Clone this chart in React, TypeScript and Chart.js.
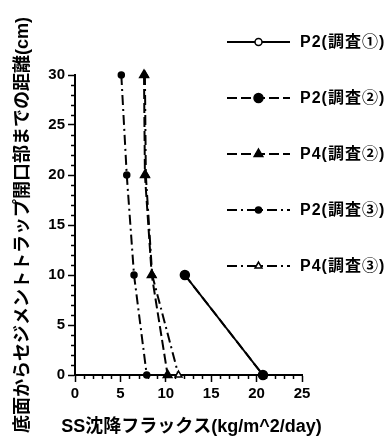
import React, { useEffect, useRef } from 'react';
import { Chart, registerables } from 'chart.js';

Chart.register(...registerables);

const FONT = '"Liberation Sans", "Noto Sans CJK JP", sans-serif';

// ---- data ----
const seriesLabels = ['P2(調査①)', 'P2(調査②)', 'P4(調査②)', 'P2(調査③)', 'P4(調査③)'];
const depthFourLevels = [30, 20, 10, 0];
const depthTwoLevels = [10, 0];
const p2Survey1Flux = [12.1, 20.7];
const p2Survey2Flux = [12.1, 20.7];
const p4Survey2Flux = [7.6, 7.7, 8.45, 10.2];
const p2Survey3Flux = [5.1, 5.7, 6.5, 7.9];
const p4Survey3Flux = [7.7, 7.8, 8.5, 11.4];

const xTitle = 'SS沈降フラックス(kg/m^2/day)';
const yTitle = '底面からセジメントトラップ開口部までの距離(cm)';
const X_MIN = 0, X_MAX = 25, X_MAJOR = 5, X_MINOR = 1;
const Y_MIN = 0, Y_MAX = 30, Y_MAJOR = 5, Y_MINOR = 1;

const toPoints = (xs: number[], ys: number[]) => xs.map((x, i) => ({ x, y: ys[i] }));

function drawMarker(ctx: CanvasRenderingContext2D, style: string, x: number, y: number, r: number, fill: string) {
  ctx.beginPath();
  if (style === 'triangle') {
    ctx.moveTo(x, y - r);
    ctx.lineTo(x + 0.866 * r, y + 0.5 * r);
    ctx.lineTo(x - 0.866 * r, y + 0.5 * r);
    ctx.closePath();
  } else {
    ctx.arc(x, y, r, 0, Math.PI * 2);
  }
  ctx.fillStyle = fill;
  ctx.fill();
  ctx.lineWidth = 1.5;
  ctx.strokeStyle = '#000';
  ctx.stroke();
}

const legendPlugin = {
  id: 'customLegend',
  afterDraw(chart: any) {
    const ctx: CanvasRenderingContext2D = chart.ctx;
    ctx.save();
    chart.data.datasets.forEach((ds: any, i: number) => {
      const y = 42 + i * 56;
      ctx.strokeStyle = '#000';
      ctx.lineWidth = 2;
      ctx.setLineDash(ds.borderDash || []);
      ctx.beginPath();
      ctx.moveTo(227, y);
      ctx.lineTo(290, y);
      ctx.stroke();
      ctx.setLineDash([]);
      drawMarker(ctx, ds.pointStyle, 258.5, y, ds.pointRadius, ds.pointBackgroundColor);
      ctx.fillStyle = '#000';
      ctx.font = `bold 16px ${FONT}`;
      (ctx as any).letterSpacing = '1px';
      ctx.textBaseline = 'middle';
      ctx.textAlign = 'left';
      ctx.fillText(ds.label, 300, y + 1);
      (ctx as any).letterSpacing = '0px';
    });
    ctx.restore();
  },
};

const xTitlePlugin = {
  id: 'xTitle',
  afterDraw(chart: any) {
    const ctx: CanvasRenderingContext2D = chart.ctx;
    const area = chart.chartArea;
    ctx.save();
    ctx.fillStyle = '#000';
    ctx.font = `bold 18px ${FONT}`;
    ctx.textAlign = 'center';
    ctx.textBaseline = 'middle';
    ctx.fillText(xTitle, (area.left + area.right) / 2 + 3, chart.height - 10);
    ctx.restore();
  },
};

const minorTicksPlugin = {
  id: 'minorTicks',
  afterDraw(chart: any) {
    const { ctx, scales } = chart;
    const xs = scales.x, ys = scales.y;
    const area = chart.chartArea;
    ctx.save();
    ctx.strokeStyle = '#000';
    ctx.lineWidth = 1.5;
    for (let v = X_MIN; v <= X_MAX; v += X_MINOR) {
      if (v % X_MAJOR === 0) continue;
      const px = Math.round(xs.getPixelForValue(v)) + 0.5;
      ctx.beginPath();
      ctx.moveTo(px, area.bottom);
      ctx.lineTo(px, area.bottom + 4);
      ctx.stroke();
    }
    for (let v = Y_MIN; v <= Y_MAX; v += Y_MINOR) {
      if (v % Y_MAJOR === 0) continue;
      const py = Math.round(ys.getPixelForValue(v)) + 0.5;
      ctx.beginPath();
      ctx.moveTo(area.left, py);
      ctx.lineTo(area.left - 4, py);
      ctx.stroke();
    }
    ctx.restore();
  },
};

export default function App() {
  const ref = useRef<HTMLCanvasElement>(null);
  useEffect(() => {
    if (!ref.current) return;
    const common = { borderColor: '#000', borderWidth: 2, pointBorderColor: '#000', pointBorderWidth: 1.5, showLine: true, clip: false as any };
    const chart = new Chart(ref.current, {
      type: 'scatter',
      data: {
        datasets: [
          { ...common, label: seriesLabels[0], data: toPoints(p2Survey1Flux, depthTwoLevels), borderDash: [], pointStyle: 'circle', pointRadius: 3.5, pointBackgroundColor: '#fff', order: 1 },
          { ...common, label: seriesLabels[1], data: toPoints(p2Survey2Flux, depthTwoLevels), borderDash: [10, 4], pointStyle: 'circle', pointRadius: 4.5, pointBackgroundColor: '#000', order: 0 },
          { ...common, label: seriesLabels[2], data: toPoints(p4Survey2Flux, depthFourLevels), borderDash: [10, 4], pointStyle: 'triangle', pointRadius: 5, pointBackgroundColor: '#000', order: 0 },
          { ...common, label: seriesLabels[3], data: toPoints(p2Survey3Flux, depthFourLevels), borderDash: [10, 4, 2, 4], pointStyle: 'circle', pointRadius: 3, pointBackgroundColor: '#000', order: 0 },
          { ...common, label: seriesLabels[4], data: toPoints(p4Survey3Flux, depthFourLevels), borderDash: [10, 4, 2, 4], pointStyle: 'triangle', pointRadius: 4, pointBackgroundColor: '#fff', order: 0 },
        ] as any,
      },
      options: {
        responsive: false,
        animation: false,
        devicePixelRatio: 1,
        layout: { padding: { left: 0, top: 75, right: 84, bottom: 0 } },
        plugins: { legend: { display: false }, tooltip: { enabled: false } },
        scales: {
          x: {
            type: 'linear',
            min: X_MIN,
            max: X_MAX,
            afterFit: (s: any) => { s.height = 62; },
            border: { display: true, color: '#000', width: 2 },
            grid: { display: true, drawOnChartArea: false, drawTicks: true, tickLength: 7, tickWidth: 1.5, tickColor: '#000' },
            ticks: { stepSize: X_MAJOR, color: '#000', padding: 3, maxRotation: 0, autoSkip: false, font: { family: FONT, size: 15, weight: 'bold' } },
            title: { display: false },
          },
          y: {
            type: 'linear',
            min: Y_MIN,
            max: Y_MAX,
            afterFit: (s: any) => { s.width = 75; },
            border: { display: true, color: '#000', width: 2 },
            grid: { display: true, drawOnChartArea: false, drawTicks: true, tickLength: 7, tickWidth: 1.5, tickColor: '#000' },
            ticks: { stepSize: Y_MAJOR, color: '#000', padding: 3, autoSkip: false, font: { family: FONT, size: 15, weight: 'bold' } },
            title: { display: true, text: yTitle, color: '#000', padding: { top: 12, bottom: 0 }, font: { family: FONT, size: 18, weight: 'bold' } },
          },
        },
      } as any,
      plugins: [minorTicksPlugin, legendPlugin, xTitlePlugin],
    });
    return () => chart.destroy();
  }, []);
  return (
    <div style={{ position: 'absolute', left: 0, top: 0, width: 386, height: 437, background: '#fff' }}>
      <canvas ref={ref} width={386} height={437} />
    </div>
  );
}
